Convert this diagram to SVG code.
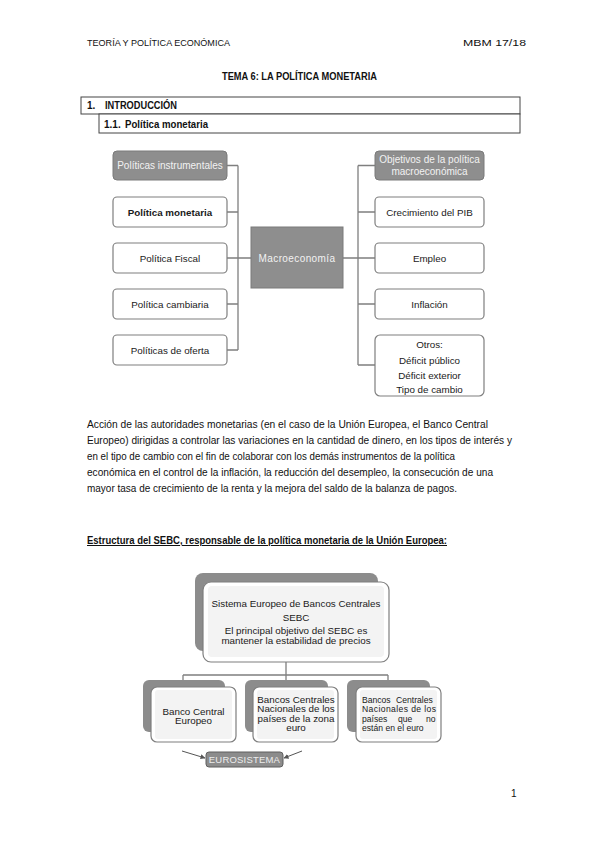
<svg xmlns="http://www.w3.org/2000/svg" width="599" height="848" viewBox="0 0 599 848">
<defs>
<style>
.doc{font-family:"Liberation Sans",Arial,sans-serif;fill:#111}
.n{font-family:"Liberation Sans",Arial,sans-serif;font-size:9.8px;fill:#1a1a1a;text-anchor:middle}
.g{font-family:"Liberation Sans",Arial,sans-serif;font-size:10px;fill:#f2f2f2;text-anchor:middle}
.wbox{fill:#fff;stroke:#7f7f7f;stroke-width:1.2}
.gbox{fill:#8e8e8e;stroke:#7a7a7a;stroke-width:1}
.back{fill:#8c8c8c}
.inner{fill:#f3f3f3}
.conn{fill:none;stroke:#7f7f7f;stroke-width:1.3}
.s{font-family:"Liberation Sans",Arial,sans-serif;font-size:8.6px;fill:#1a1a1a}
</style>
<marker id="ah" viewBox="0 0 10 10" refX="9" refY="5" markerWidth="5" markerHeight="5" orient="auto">
<path d="M0,0 L10,5 L0,10 z" fill="#555"/>
</marker>
</defs>
<rect width="599" height="848" fill="#fff"/>

<g id="header">
<text class="doc" x="87" y="46" font-size="8.6" textLength="143" lengthAdjust="spacingAndGlyphs">TEORÍA Y POLÍTICA ECONÓMICA</text>
<text class="doc" x="463" y="46" font-size="9" textLength="63" lengthAdjust="spacingAndGlyphs">MBM 17/18</text>
<text class="doc" x="222" y="80" font-size="10" font-weight="bold" textLength="155" lengthAdjust="spacingAndGlyphs">TEMA 6: LA POLÍTICA MONETARIA</text>
</g>

<g id="section1">
<rect x="81" y="97" width="439" height="17" fill="#fff" stroke="#444" stroke-width="1"/>
<text class="doc" x="87" y="109" font-size="10" font-weight="bold">1.</text>
<text class="doc" x="105" y="109" font-size="10" font-weight="bold" textLength="72" lengthAdjust="spacingAndGlyphs">INTRODUCCIÓN</text>
</g>
<g id="section11">
<rect x="99" y="114" width="421" height="19" fill="#fff" stroke="#444" stroke-width="1"/>
<text class="doc" x="104" y="128" font-size="10" font-weight="bold">1.1.</text>
<text class="doc" x="125" y="128" font-size="10" font-weight="bold" textLength="83" lengthAdjust="spacingAndGlyphs">Política monetaria</text>
</g>

<g id="connectors-top">
<path class="conn" d="M227,165.5 H238 M227,212 H238 M227,258 H238 M227,304 H238 M227,350 H238 M238,165.5 V350 M238,258 H251"/>
<path class="conn" d="M343,258 H358 M358,165.5 V365 M358,165.5 H375 M358,212 H375 M358,258 H375 M358,304 H375 M358,365 H375"/>
</g>

<g id="n-instrumentales">
<rect class="gbox" x="113" y="151" width="114" height="29" rx="4"/>
<text class="g" x="170" y="169">Políticas instrumentales</text>
</g>
<g id="n-monetaria">
<rect class="wbox" x="113" y="197" width="114" height="30" rx="4"/>
<text class="n" x="170" y="215.5" font-weight="bold">Política monetaria</text>
</g>
<g id="n-fiscal">
<rect class="wbox" x="113" y="243" width="114" height="30" rx="4"/>
<text class="n" x="170" y="261.5">Política Fiscal</text>
</g>
<g id="n-cambiaria">
<rect class="wbox" x="113" y="289" width="114" height="30" rx="4"/>
<text class="n" x="170" y="307.5">Política cambiaria</text>
</g>
<g id="n-oferta">
<rect class="wbox" x="113" y="335" width="114" height="30" rx="4"/>
<text class="n" x="170" y="353.5">Políticas de oferta</text>
</g>

<g id="n-macro">
<rect class="gbox" x="251" y="227" width="92" height="61"/>
<text class="g" x="297" y="262" font-size="11.5" letter-spacing="0.4">Macroeconomía</text>
</g>

<g id="n-objetivos">
<rect class="gbox" x="375" y="151" width="109" height="29" rx="4"/>
<text class="g" y="163"><tspan x="429.5">Objetivos de la política</tspan><tspan x="429.5" dy="12">macroeconómica</tspan></text>
</g>
<g id="n-pib">
<rect class="wbox" x="375" y="197" width="109" height="30" rx="4"/>
<text class="n" x="429.5" y="215.5">Crecimiento del PIB</text>
</g>
<g id="n-empleo">
<rect class="wbox" x="375" y="243" width="109" height="30" rx="4"/>
<text class="n" x="429.5" y="261.5">Empleo</text>
</g>
<g id="n-inflacion">
<rect class="wbox" x="375" y="289" width="109" height="30" rx="4"/>
<text class="n" x="429.5" y="307.5">Inflación</text>
</g>
<g id="n-otros">
<rect class="wbox" x="375" y="335" width="109" height="61" rx="5"/>
<text class="n" y="347.5"><tspan x="429.5">Otros:</tspan><tspan x="429.5" dy="16.5">Déficit público</tspan><tspan x="429.5" dy="14.5">Déficit exterior</tspan><tspan x="429.5" dy="14.5">Tipo de cambio</tspan></text>
</g>

<g id="paragraph">
<text class="doc" x="87" y="428" font-size="10" textLength="401" lengthAdjust="spacingAndGlyphs">Acción de las autoridades monetarias (en el caso de la Unión Europea, el Banco Central</text>
<text class="doc" x="87" y="444" font-size="10" textLength="425" lengthAdjust="spacingAndGlyphs">Europeo) dirigidas a controlar las variaciones en la cantidad de dinero, en los tipos de interés y</text>
<text class="doc" x="87" y="460" font-size="10" textLength="368" lengthAdjust="spacingAndGlyphs">en el tipo de cambio con el fin de colaborar con los demás instrumentos de la política</text>
<text class="doc" x="87" y="476" font-size="10" textLength="406" lengthAdjust="spacingAndGlyphs">económica en el control de la inflación, la reducción del desempleo, la consecución de una</text>
<text class="doc" x="87" y="492" font-size="10" textLength="370" lengthAdjust="spacingAndGlyphs">mayor tasa de crecimiento de la renta y la mejora del saldo de la balanza de pagos.</text>
<text class="doc" x="87" y="544" font-size="10" font-weight="bold" text-decoration="underline" textLength="360" lengthAdjust="spacingAndGlyphs">Estructura del SEBC, responsable de la política monetaria de la Unión Europea:</text>
</g>

<g id="connectors-sebc">
<path class="conn" d="M286,662 V675 M183,675 H388 M183,675 V680 M286,675 V680 M388,675 V680"/>
<line x1="182" y1="751" x2="205" y2="758" stroke="#555" stroke-width="1" marker-end="url(#ah)"/>
<line x1="302" y1="751" x2="284" y2="758" stroke="#555" stroke-width="1" marker-end="url(#ah)"/>
</g>

<g id="n-sebc">
<rect class="back" x="195" y="573" width="183" height="78" rx="8"/>
<rect class="wbox" x="203" y="582" width="186" height="80" rx="8"/>
<rect class="inner" x="208" y="586" width="176" height="71" rx="4"/>
<text class="n" font-size="9.2" y="606.5"><tspan x="296">Sistema Europeo de Bancos Centrales</tspan><tspan x="296" dy="14">SEBC</tspan><tspan x="296" dy="13.5">El principal objetivo del SEBC es</tspan><tspan x="296" dy="10">mantener la estabilidad de precios</tspan></text>
</g>

<g id="n-bce">
<rect class="back" x="143" y="680" width="82" height="52" rx="6"/>
<rect class="wbox" x="151" y="687" width="85" height="55" rx="6"/>
<rect class="inner" x="155" y="690" width="77" height="49" rx="3"/>
<text class="n" font-size="8.6" y="714.5"><tspan x="193.5">Banco Central</tspan><tspan x="193.5" dy="9.6">Europeo</tspan></text>
</g>

<g id="n-bcn-euro">
<rect class="back" x="245" y="680" width="83" height="52" rx="6"/>
<rect class="wbox" x="253" y="687" width="85" height="55" rx="6"/>
<rect class="inner" x="257" y="690" width="77" height="49" rx="3"/>
<text class="n" font-size="8.4" y="703"><tspan x="296">Bancos Centrales</tspan><tspan x="296" dy="9.4">Nacionales de los</tspan><tspan x="296" dy="9.4">países de la zona</tspan><tspan x="296" dy="9.4">euro</tspan></text>
</g>

<g id="n-bcn-noeuro">
<rect class="back" x="347" y="680" width="83" height="52" rx="6"/>
<rect class="wbox" x="356" y="687" width="85" height="55" rx="6"/>
<rect class="inner" x="360" y="690" width="77" height="49" rx="3"/>
<text class="s" y="703"><tspan x="362">Bancos</tspan><tspan x="396">Centrales</tspan><tspan x="362" dy="9.4" textLength="74" lengthAdjust="spacing">Nacionales de los</tspan><tspan x="362" dy="9.4">países</tspan><tspan x="398">que</tspan><tspan x="426">no</tspan><tspan x="362" dy="9.4">están en el euro</tspan></text>
</g>

<g id="n-eurosistema">
<rect x="206" y="752" width="77" height="15" rx="3" fill="#8c8c8c" stroke="#5f5f5f" stroke-width="1"/>
<text x="244.5" y="763" font-family="Liberation Sans, Arial, sans-serif" font-size="9.5" fill="#ededed" text-anchor="middle" letter-spacing="0.2">EUROSISTEMA</text>
</g>

<text class="doc" x="511" y="797" font-size="10">1</text>
</svg>
